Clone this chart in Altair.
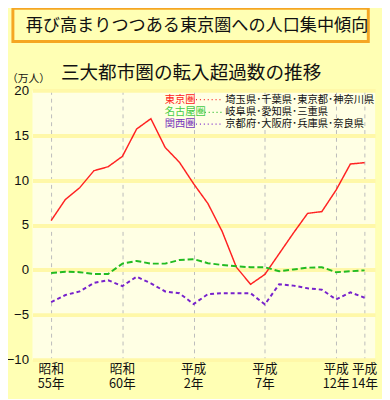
import altair as alt
import pandas as pd

# ---- data ----
years = list(range(1980, 2003))
tokyo = [5.5, 7.85, 9.15, 11.05, 11.5, 12.65, 15.7, 16.85, 13.65, 12.0, 9.6, 7.4,
         4.3, 0.3, -1.6, -0.5, 1.8, 4.1, 6.3, 6.5, 8.9, 11.8, 11.95]
nagoya = [-0.35, -0.2, -0.25, -0.45, -0.45, 0.7, 1.0, 0.7, 0.7, 1.1, 1.2, 0.75,
          0.55, 0.4, 0.3, 0.3, -0.15, 0.05, 0.25, 0.3, -0.25, -0.15, -0.05]
kansai = [-3.6, -2.8, -2.4, -1.45, -1.15, -1.8, -0.75, -1.5, -2.4, -2.6, -3.8, -2.7,
          -2.6, -2.6, -2.6, -3.85, -1.6, -1.75, -2.05, -2.2, -3.3, -2.5, -3.1]

series_names = ["東京圏", "名古屋圏", "関西圏"]
series_desc = ["埼玉県･千葉県･東京都･神奈川県", "岐阜県･愛知県･三重県", "京都府･大阪府･兵庫県･奈良県"]
series_colors = ["#FF2222", "#22BB22", "#7722CC"]
label_colors = ["#FF2020", "#44CC44", "#7733BB"]
series_dash = [[1, 0], [6, 3], [4, 3]]
series_width = [1.5, 2, 2]

tick_years = [1980, 1985, 1990, 1995, 2000, 2002]
tick_era = ["昭和", "昭和", "平成", "平成", "平成", "平成"]
tick_year_lbl = ["55年", "60年", "2年", "7年", "12年", "14年"]
y_ticks = [-10, -5, 0, 5, 10, 15, 20]

title_text = "再び高まりつつある東京圏への人口集中傾向"
subtitle_text = "三大都市圏の転入超過数の推移"
unit_text = "（万人）"

OUTER_BG = "#FFFFB4"
PLOT_BG = "#FFFFE4"
GRID_Y = "#FFF8A8"
JP = "Noto Sans CJK JP"

xscale = alt.Scale(domain=[1978.69, 2002.74], nice=False, zero=False)
yscale = alt.Scale(domain=[-10, 20], nice=False, zero=False)

x_axis = alt.Axis(values=tick_years, labels=False, ticks=False, domain=False,
                  grid=True, gridDash=[4, 4], gridColor="#BBBBBB", gridWidth=1, title=None)
y_axis = alt.Axis(values=y_ticks, ticks=False, domain=False, grid=True,
                  gridColor=GRID_Y, gridWidth=4, labelFont="Liberation Sans",
                  labelFontSize=13.5, labelColor="#111111", labelPadding=4, title=None)

def X():
    return alt.X("year:Q", scale=xscale, axis=x_axis)

def Y():
    return alt.Y("value:Q", scale=yscale, axis=y_axis)

df = pd.DataFrame({
    "year": years * 3,
    "value": tokyo + nagoya + kansai,
    "series": [series_names[0]] * len(years) + [series_names[1]] * len(years) + [series_names[2]] * len(years),
})

one = pd.DataFrame({"k": [0]})

layers = []

# series lines (carry the axes)
for i, name in enumerate(series_names):
    layers.append(alt.Chart(df).transform_filter(alt.datum.series == name).mark_line(
        color=series_colors[i], strokeDash=series_dash[i], strokeWidth=series_width[i]
    ).encode(x=X(), y=Y()))

# x tick labels (two lines in one text)
ticks_df = pd.DataFrame({"year": tick_years, "era": tick_era, "yr": tick_year_lbl})
layers.append(alt.Chart(ticks_df).transform_calculate(
    lbl="datum.era + '\\n' + datum.yr"
).mark_text(font=JP, fontSize=13, color="#111111", baseline="top", lineBreak="\n", lineHeight=15).encode(
    x=X(), y=alt.value(279), text="lbl:N"))

# title box and texts
layers.append(alt.Chart(one).mark_rect(fill=OUTER_BG, stroke="#F5A623", strokeWidth=3).encode(
    x=alt.value(-20), x2=alt.value(343), y=alt.value(-84), y2=alt.value(-50)))
layers.append(alt.Chart(one).mark_text(text=title_text, font=JP, fontSize=17.5, color="#111111",
                                       align="center", baseline="middle").encode(
    x=alt.value(168), y=alt.value(-66)))
layers.append(alt.Chart(one).mark_text(text=subtitle_text, font=JP, fontSize=19, color="#111111",
                                       align="center", baseline="middle").encode(
    x=alt.value(162), y=alt.value(-18)))
layers.append(alt.Chart(one).mark_text(text=unit_text, font=JP, fontSize=11, color="#111111",
                                       align="center", baseline="middle").encode(
    x=alt.value(-4), y=alt.value(-12)))

# manual legend
row_y = [9.5, 22.5, 34.5]
name_end = [165, 174, 165]
for i, name in enumerate(series_names):
    layers.append(alt.Chart(one).mark_text(text=name, font=JP, fontSize=10.5, color=label_colors[i],
                                           align="left", baseline="middle").encode(
        x=alt.value(135), y=alt.value(row_y[i])))
    layers.append(alt.Chart(one).mark_rule(color=series_colors[i], strokeDash=[1, 3], strokeWidth=1.3).encode(
        x=alt.value(name_end[i] + 2), x2=alt.value(193), y=alt.value(row_y[i])))
    layers.append(alt.Chart(one).mark_text(text=series_desc[i], font=JP, fontSize=10.5, color="#111111",
                                           align="left", baseline="middle").encode(
        x=alt.value(197), y=alt.value(row_y[i])))

chart = alt.layer(*layers).properties(
    width=350, height=275,
    padding={"left": 25, "top": 80, "right": 7, "bottom": 36},
    autosize=alt.AutoSizeParams(type="none"),
    background=OUTER_BG,
    view=alt.ViewBackground(fill=PLOT_BG, strokeWidth=0),
)

chart.save("out.html", embed_options={"renderer": "svg", "actions": False})
